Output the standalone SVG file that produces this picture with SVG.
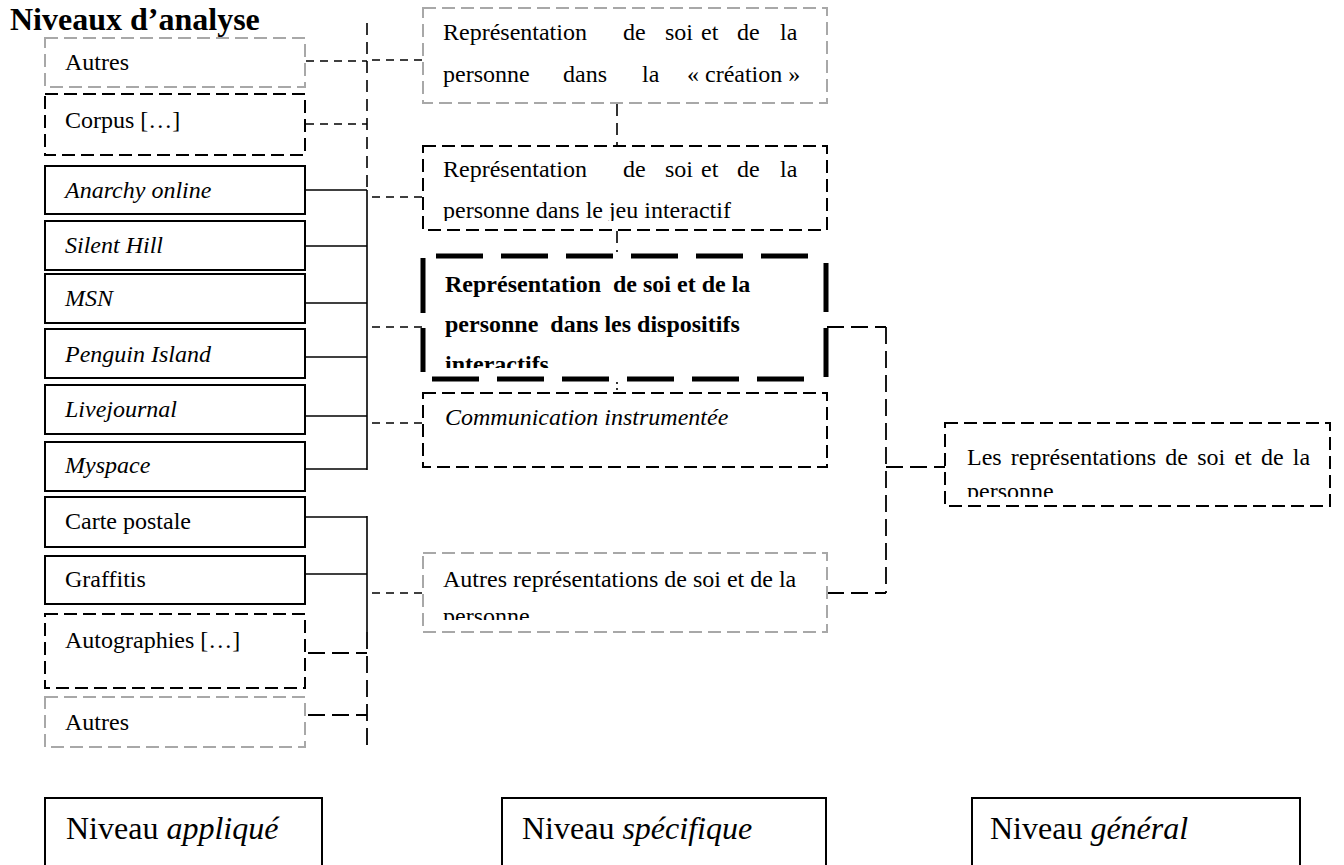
<svg xmlns="http://www.w3.org/2000/svg" width="1344" height="865" viewBox="0 0 1344 865">
<style>
text{font-family:"Liberation Serif","Times New Roman",serif;font-size:24px;fill:#000}
.title{font-size:32px;font-weight:bold}
.big{font-size:32px}
.it{font-style:italic}
.b{font-weight:bold}
.pre{white-space:pre}
.box{fill:#fff;stroke:#000;stroke-width:2}
.dbox{fill:#fff;stroke:#000;stroke-width:2;stroke-dasharray:13 6}
.gbox{fill:#fff;stroke:#a8a8a8;stroke-width:2;stroke-dasharray:13 6}
.thick{stroke:#000;stroke-width:5;fill:none}
.c{fill:none;stroke:#000;stroke-width:1.6}
.cs{fill:none;stroke:#000;stroke-width:1.6;stroke-dasharray:8 6}
.cm{fill:none;stroke:#000;stroke-width:1.6;stroke-dasharray:12 7}
.cl{fill:none;stroke:#000;stroke-width:1.8;stroke-dasharray:17 7}
</style>
<defs>
<clipPath id="clipJeu"><rect x="423" y="146" width="404" height="75"/></clipPath>
<clipPath id="clipDisp"><rect x="423" y="256" width="404" height="112"/></clipPath>
<clipPath id="clipAutresRep"><rect x="423" y="553" width="404" height="67"/></clipPath>
<clipPath id="clipLes"><rect x="945" y="423" width="386" height="74"/></clipPath>
</defs>

<text class="title" x="10" y="30">Niveaux d’analyse</text>

<g id="connectors">
  <line class="cm" x1="367" y1="23" x2="367" y2="190"/>
  <line class="cs" x1="306" y1="61" x2="367" y2="61"/>
  <line class="cs" x1="306" y1="124" x2="367" y2="124"/>
  <line class="c" x1="306" y1="190" x2="367" y2="190"/>
  <line class="c" x1="306" y1="246" x2="367" y2="246"/>
  <line class="c" x1="306" y1="303" x2="367" y2="303"/>
  <line class="c" x1="306" y1="357" x2="367" y2="357"/>
  <line class="c" x1="306" y1="416" x2="367" y2="416"/>
  <line class="c" x1="306" y1="469" x2="367" y2="469"/>
  <line class="c" x1="367" y1="190" x2="367" y2="470"/>
  <line class="cs" x1="372" y1="60" x2="423" y2="60"/>
  <line class="cs" x1="372" y1="197" x2="423" y2="197"/>
  <line class="cs" x1="372" y1="327" x2="423" y2="327"/>
  <line class="cs" x1="372" y1="423" x2="423" y2="423"/>
  <line class="c" x1="306" y1="517" x2="367" y2="517"/>
  <line class="c" x1="306" y1="574" x2="367" y2="574"/>
  <line class="c" x1="367" y1="516" x2="367" y2="632"/>
  <line class="cl" x1="367" y1="632" x2="367" y2="748"/>
  <line class="cl" x1="308" y1="653" x2="367" y2="653"/>
  <line class="cl" x1="308" y1="715" x2="367" y2="715"/>
  <line class="cs" x1="372" y1="593" x2="423" y2="593"/>
  <line class="cm" x1="617" y1="104" x2="617" y2="145"/>
  <line class="cm" x1="617" y1="231" x2="617" y2="252"/>
  <line class="c" x1="617" y1="382" x2="617" y2="392" stroke-dasharray="2 4"/>
  <line class="cl" x1="827" y1="327" x2="886" y2="327"/>
  <line class="cl" x1="886" y1="327" x2="886" y2="593"/>
  <line class="cl" x1="827" y1="593" x2="886" y2="593"/>
  <line class="cl" x1="886" y1="467" x2="945" y2="467"/>
</g>

<g id="n-autres1"><rect class="gbox" x="45" y="38" width="260" height="49"/><text x="65" y="70">Autres</text></g>
<g id="n-corpus"><rect class="dbox" x="45" y="94" width="260" height="61"/><text x="65" y="128">Corpus […]</text></g>
<g id="n-anarchy"><rect class="box" x="45" y="166" width="260" height="48"/><text class="it" x="65" y="198">Anarchy online</text></g>
<g id="n-silent"><rect class="box" x="45" y="221" width="260" height="49"/><text class="it" x="65" y="253">Silent Hill</text></g>
<g id="n-msn"><rect class="box" x="45" y="274" width="260" height="49"/><text class="it" x="65" y="306">MSN</text></g>
<g id="n-penguin"><rect class="box" x="45" y="329" width="260" height="49"/><text class="it" x="65" y="362">Penguin Island</text></g>
<g id="n-livejournal"><rect class="box" x="45" y="385" width="260" height="49"/><text class="it" x="65" y="417">Livejournal</text></g>
<g id="n-myspace"><rect class="box" x="45" y="442" width="260" height="49"/><text class="it" x="65" y="473">Myspace</text></g>
<g id="n-carte"><rect class="box" x="45" y="497" width="260" height="50"/><text x="65" y="529">Carte postale</text></g>
<g id="n-graffitis"><rect class="box" x="45" y="556" width="260" height="48"/><text x="65" y="587">Graffitis</text></g>
<g id="n-autographies"><rect class="dbox" x="45" y="614" width="260" height="74"/><text x="65" y="648">Autographies […]</text></g>
<g id="n-autres2"><rect class="gbox" x="45" y="697" width="260" height="50"/><text x="65" y="730">Autres</text></g>

<g id="n-creation">
  <rect class="gbox" x="423" y="8" width="404" height="95"/>
  <text y="40"><tspan x="443">Représentation</tspan><tspan x="623">de</tspan><tspan x="665">soi</tspan><tspan x="701">et</tspan><tspan x="737">de</tspan><tspan x="780">la</tspan></text>
  <text y="82"><tspan x="443">personne</tspan><tspan x="563">dans</tspan><tspan x="642">la</tspan><tspan x="687">« création »</tspan></text>
</g>

<g id="n-jeu">
  <rect class="dbox" x="423" y="146" width="404" height="84"/>
  <text y="177"><tspan x="443">Représentation</tspan><tspan x="623">de</tspan><tspan x="665">soi</tspan><tspan x="701">et</tspan><tspan x="737">de</tspan><tspan x="780">la</tspan></text>
  <text x="443" y="218" clip-path="url(#clipJeu)">personne dans le jeu interactif</text>
</g>

<g id="n-dispositifs">
  <rect x="423" y="256" width="404" height="123" fill="#fff"/>
  <line class="thick" x1="436" y1="256" x2="813" y2="256" stroke-dasharray="47 18"/>
  <line class="thick" x1="432" y1="379" x2="813" y2="379" stroke-dasharray="47 18"/>
  <line class="thick" x1="423" y1="258" x2="423" y2="372" stroke-dasharray="55 15"/>
  <line class="thick" x1="826" y1="263" x2="826" y2="377" stroke-dasharray="49 16"/>
  <g clip-path="url(#clipDisp)">
    <text class="b pre" x="445" y="292">Représentation  de soi et de la</text>
    <text class="b pre" x="445" y="332">personne  dans les dispositifs</text>
    <text class="b" x="445" y="372">interactifs</text>
  </g>
</g>

<g id="n-communication">
  <rect class="dbox" x="423" y="393" width="404" height="74"/>
  <text class="it" x="445" y="425">Communication instrumentée</text>
</g>

<g id="n-autresrep">
  <rect class="gbox" x="423" y="553" width="404" height="79"/>
  <text x="443" y="587">Autres représentations de soi et de la</text>
  <text x="443" y="624" clip-path="url(#clipAutresRep)">personne</text>
</g>

<g id="n-les">
  <rect class="dbox" x="945" y="423" width="385" height="83"/>
  <text x="967" y="465" word-spacing="3.2">Les représentations de soi et de la</text>
  <text x="967" y="499" clip-path="url(#clipLes)">personne</text>
</g>

<g id="n-applique"><rect class="box" x="45" y="798" width="277" height="80"/><text class="big" x="66" y="839">Niveau <tspan class="it">appliqué</tspan></text></g>
<g id="n-specifique"><rect class="box" x="502" y="798" width="324" height="80"/><text class="big" x="522" y="839">Niveau <tspan class="it">spécifique</tspan></text></g>
<g id="n-general"><rect class="box" x="972" y="798" width="328" height="80"/><text class="big" x="990" y="839">Niveau <tspan class="it">général</tspan></text></g>
</svg>
